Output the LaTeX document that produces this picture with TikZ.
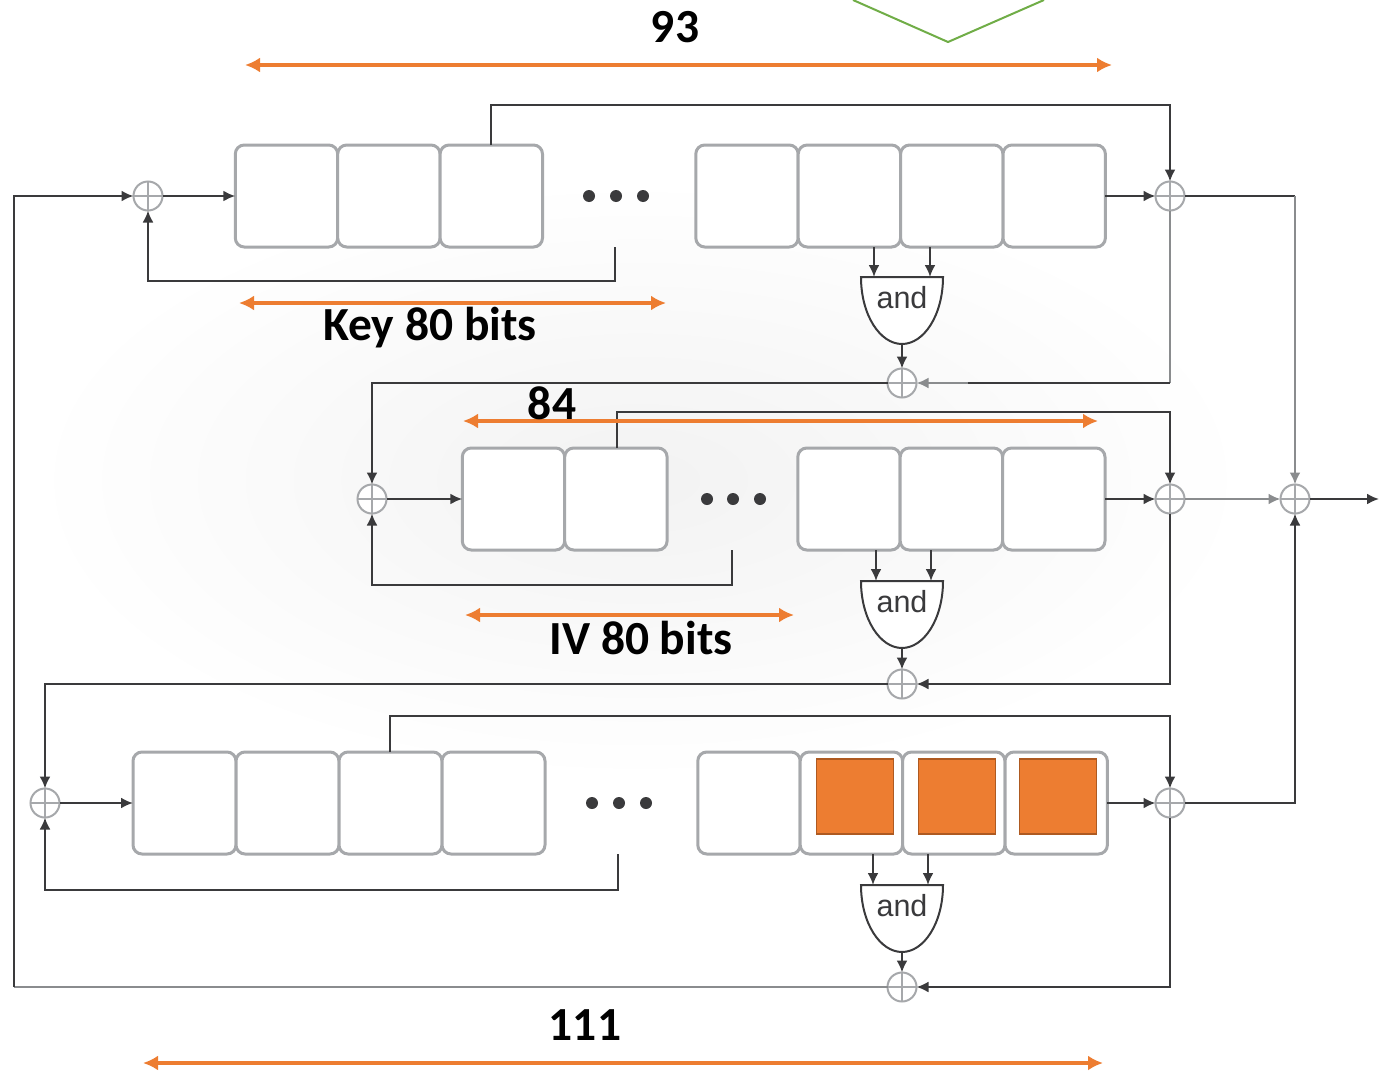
\documentclass[tikz,border=0pt]{standalone}
\usepackage{xcolor}
\usepackage{fontspec}
\setmainfont{Carlito}
\newfontfamily\gatefont{Liberation Sans}
\usetikzlibrary{positioning, arrows.meta, calc}
\definecolor{accent}{HTML}{ED7D31}
\definecolor{accentdark}{HTML}{AE5A21}
\definecolor{cellline}{HTML}{A6A8AB}
\definecolor{wiredark}{HTML}{3A3A3C}
\definecolor{wirelight}{HTML}{8A8C8E}
\definecolor{good}{HTML}{70AD47}

\newcommand{\andgate}[3]{% name, x, top y
  \draw[gateline, fill=white] (#2-41,#3) -- (#2+41,#3)
    .. controls (#2+41,#3+38) and (#2+22,#3+67) .. (#2,#3+67)
    .. controls (#2-22,#3+67) and (#2-41,#3+38) .. cycle;
  \node[gatetext] (#1) at (#2,#3+21) {and};
  \coordinate (#1out) at (#2,#3+67);
}

\begin{document}
\begin{tikzpicture}[x=1pt, y=-1pt,
        cell/.style={rectangle, rounded corners=9pt, draw=cellline, fill=white,
          line width=3pt, minimum width=102.4pt, minimum height=102pt,
          inner sep=0pt, outer sep=0pt},
        filled/.style={rectangle, draw=accentdark, fill=accent, line width=1.6pt,
          minimum width=77pt, minimum height=75pt, inner sep=0pt},
        xor/.style={circle, draw=cellline, fill=white, line width=2pt,
          minimum size=29pt, inner sep=0pt, outer sep=0pt,
          path picture={
            \draw[cellline, line width=1.6pt]
              (path picture bounding box.north) -- (path picture bounding box.south)
              (path picture bounding box.west) -- (path picture bounding box.east);}},
        dotmark/.style={circle, fill=wiredark, minimum size=12pt, inner sep=0pt},
        gateline/.style={draw=wiredark, line width=2pt},
        gatetext/.style={font=\gatefont\fontsize{30.5}{30.5}\selectfont, text=wiredark, inner sep=0pt},
        wire/.style={draw=wiredark, line width=2.2pt},
        pale/.style={draw=wirelight, line width=2.4pt},
        arr/.style={-{Latex[length=12pt, width=11pt]}},
        span/.style={draw=accent, line width=3.6pt, {Latex[length=15pt, width=15pt]}-{Latex[length=15pt, width=15pt]}},
        label/.style={font=\bfseries\fontsize{47.5}{47.5}\selectfont, text=black, inner sep=0pt}]

  \useasboundingbox (0,0) rectangle (1379,1071);
  \shade[inner color=black!5, outer color=white] (640,480) ellipse (610 and 300);

  % first register
  \node[cell] (a1) at (286.5,196) {};
  \node[cell, right=0pt of a1] (a2) {};
  \node[cell, right=0pt of a2] (a3) {};
  \node[cell] (a4) at (747,196) {};
  \node[cell, right=0pt of a4] (a5) {};
  \node[cell, right=0pt of a5] (a6) {};
  \node[cell, right=0pt of a6] (a7) {};
  \node[dotmark] (adot1) at (589,196) {};
  \node[dotmark] (adot2) at (616,196) {};
  \node[dotmark] (adot3) at (643,196) {};

  % second register
  \node[cell] (b1) at (513.5,499) {};
  \node[cell, right=0pt of b1] (b2) {};
  \node[cell] (b3) at (849,499) {};
  \node[cell, right=0pt of b3] (b4) {};
  \node[cell, right=0pt of b4] (b5) {};
  \node[dotmark] (bdot1) at (707,499) {};
  \node[dotmark] (bdot2) at (733,499) {};
  \node[dotmark] (bdot3) at (760,499) {};

  % third register
  \node[cell, minimum width=103pt] (c1) at (184.5,803) {};
  \node[cell, minimum width=103pt, right=0pt of c1] (c2) {};
  \node[cell, minimum width=103pt, right=0pt of c2] (c3) {};
  \node[cell, minimum width=103pt, right=0pt of c3] (c4) {};
  \node[cell] (c5) at (749,803) {};
  \node[cell, right=0pt of c5] (c6) {};
  \node[cell, right=0pt of c6] (c7) {};
  \node[cell, right=0pt of c7] (c8) {};
  \node[filled] at (855,796.5) (f1) {};
  \node[filled] at (957,796.5) (f2) {};
  \node[filled] at (1058,796.5) (f3) {};
  \node[dotmark] (cdot1) at (592,803) {};
  \node[dotmark] (cdot2) at (619,803) {};
  \node[dotmark] (cdot3) at (646,803) {};

  % xor nodes
  \node[xor] (xa) at (148,196) {};
  \node[xor] (xb) at (1170,196) {};
  \node[xor] (xc) at (902,383) {};
  \node[xor] (xd) at (372,499) {};
  \node[xor] (xe) at (1170,499) {};
  \node[xor] (xout) at (1295,499) {};
  \node[xor] (xf) at (902,684) {};
  \node[xor] (xg) at (45,803) {};
  \node[xor] (xh) at (1170,803) {};
  \node[xor] (xi) at (902,987) {};

  \andgate{ga}{902}{277}
  \andgate{gb}{902}{581}
  \andgate{gc}{902}{885}

  \coordinate (ga1) at (874,277);
  \coordinate (ga2) at (930,277);
  \coordinate (gb1) at (876,581);
  \coordinate (gb2) at (931,581);
  \coordinate (gc1) at (873,885);
  \coordinate (gc2) at (928,885);
  \coordinate (atop) at (491,105);
  \coordinate (btop) at (617,412);
  \coordinate (ctop) at (390,716);
  \coordinate (afb) at (615,281);
  \coordinate (bfb) at (732,585);
  \coordinate (cfb) at (618,890);
  \coordinate (left) at (14,987);
  \coordinate (leftb) at (45,684);
  \coordinate (lefta) at (372,383);
  \coordinate (right) at (1295,196);
  \coordinate (rightc) at (1295,803);
  \coordinate (tapc) at (968,383);
  \coordinate (end) at (1379,499);

  % first register wires
  \draw[wire, arr] (xa) -- (a1);
  \draw[wire, arr] (a7) -- (xb);
  \draw[wire, arr] (atop |- a3.north) -- (atop) -| (xb.north);
  \draw[wire, arr] (afb |- a3.south) -- (afb) -| (xa.south);
  \draw[wire, arr] (ga1 |- a5.south) -- (ga1);
  \draw[wire, arr] (ga2 |- a5.south) -- (ga2);
  \draw[wire, arr] (gaout) -- (xc.north);
  \draw[pale] (xb.south) -- (xb |- xc);
  \draw[wire] (xb |- xc) -- (tapc);
  \draw[pale, arr] (tapc) -- (xc.east);
  \draw[wire, arr] (xc.west) -- (lefta) -- (xd.north);
  \draw[wire] (xb.east) -- (right);
  \draw[pale, arr] (right) -- (xout.north);

  % second register wires
  \draw[wire, arr] (xd) -- (b1);
  \draw[wire, arr] (b5) -- (xe);
  \draw[wire, arr] (btop |- b2.north) -- (btop) -| (xe.north);
  \draw[wire, arr] (bfb |- b1.south) -- (bfb) -| (xd.south);
  \draw[wire, arr] (gb1 |- b3.south) -- (gb1);
  \draw[wire, arr] (gb2 |- b3.south) -- (gb2);
  \draw[wire, arr] (gbout) -- (xf.north);
  \draw[wire, arr] (xe.south) |- (xf.east);
  \draw[wire, arr] (xf.west) -- (leftb) -- (xg.north);
  \draw[pale, arr] (xe) -- (xout);
  \draw[wire, arr] (xout) -- (end);

  % third register wires
  \draw[wire, arr] (xg) -- (c1);
  \draw[wire, arr] (c8) -- (xh);
  \draw[wire, arr] (ctop |- c3.north) -- (ctop) -| (xh.north);
  \draw[wire, arr] (cfb |- c1.south) -- (cfb) -| (xg.south);
  \draw[wire, arr] (gc1 |- c6.south) -- (gc1);
  \draw[wire, arr] (gc2 |- c6.south) -- (gc2);
  \draw[wire, arr] (gcout) -- (xi.north);
  \draw[wire, arr] (xh.south) |- (xi.east);
  \draw[wire, arr] (xh.east) -- (rightc) -- (xout.south);
  \draw[pale] (xi.west) -- (left);
  \draw[wire, arr] (left) |- (xa.west);

  % bit spans
  \coordinate (s1a) at (245,65);
  \coordinate (s1b) at (1112,65);
  \coordinate (s2a) at (239,303);
  \coordinate (s2b) at (666,303);
  \coordinate (s3a) at (463,421);
  \coordinate (s3b) at (1098,421);
  \coordinate (s4a) at (465,615);
  \coordinate (s4b) at (794,615);
  \coordinate (s5a) at (143,1063);
  \coordinate (s5b) at (1103,1063);
  \draw[span] (s1a) -- (s1b);
  \draw[span] (s2a) -- (s2b);
  \draw[span] (s3a) -- (s3b);
  \draw[span] (s4a) -- (s4b);
  \draw[span] (s5a) -- (s5b);
  \node[label] (l93) at (675,27) {93};
  \node[label] (lkey) at (430,328) {Key 80 bits};
  \node[label] (l84) at (552,403) {84};
  \node[label] (liv) at (641,638) {IV 80 bits};
  \node[label] (l111) at (585,1025) {111};

  % corner of a shape cut off at the top
  \coordinate (gs) at (853,0);
  \coordinate (gm) at (948,42);
  \coordinate (gz) at (1044,0);
  \draw[good, line width=2pt] (gs) -- (gm) -- (gz);
\end{tikzpicture}
\end{document}
